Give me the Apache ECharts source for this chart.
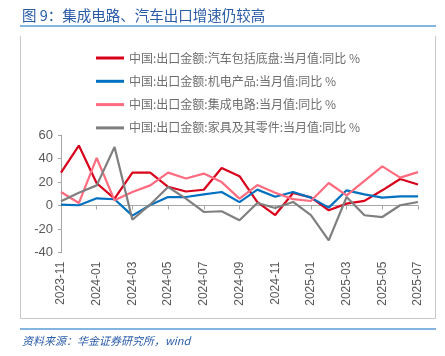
<!DOCTYPE html>
<html><head><meta charset="utf-8">
<script src="https://cdn.jsdelivr.net/npm/echarts@6/dist/echarts.min.js"></script>
<style>html,body{margin:0;padding:0;background:#fff}#c{width:445px;height:356px}</style>
</head><body><div id="c"></div>
<script>
const categories = ['2023-11','2023-12','2024-01','2024-02','2024-03','2024-04','2024-05','2024-06','2024-07','2024-08','2024-09','2024-10','2024-11','2024-12','2025-01','2025-02','2025-03','2025-04','2025-05','2025-06','2025-07'];
const autoExport = [28, 51, 19, 6, 28, 28, 16, 12, 13.5, 32, 25, 3, -8, 10.7, 7, -4, 1.7, 4, 13, 22.6, 18];
const mechElec   = [0.8, 0.3, 6.2, 5.4, -8.5, 0.5, 7.3, 7.3, 9.6, 11.6, 3, 13.6, 7.5, 11.6, 6.8, -1.7, 13, 9.6, 6.8, 7.9, 7.9];
const icExport   = [11.6, 2.2, 40.5, 4.5, 11.6, 17.2, 28, 23, 27.2, 20, 5.9, 17.5, 11, 5.5, 3.9, 19.2, 8.7, 21, 33.4, 23.8, 28.5];
const furniture  = [3.7, 11, 17.2, 49.8, -12, 1, 15.8, 6, -5.4, -4.8, -12.5, 2.2, -2, 3.1, -8, -29.5, 7.3, -8.2, -9.7, 0.3, 3.1];
const seriesNames = ['中国:出口金额:汽车包括底盘:当月值:同比 %','中国:出口金额:机电产品:当月值:同比 %','中国:出口金额:集成电路:当月值:同比 %','中国:出口金额:家具及其零件:当月值:同比 %'];
const yTicks = {min: -40, max: 60, interval: 20};
const colors = ['#D9001B', '#0070C0', '#FF6B7F', '#7F7F7F'];

const chart = echarts.init(document.getElementById('c'), null, {renderer: 'canvas'});
const txt = '#595959';
const mk = (name, data, color) => ({
  name, type: 'line', data, symbol: 'none', showSymbol: false, xAxisIndex: 0,
  lineStyle: {color, width: 2.2}, itemStyle: {color}
});
chart.setOption({
  animation: false,
  color: colors,
  grid: {left: 61, right: 27, top: 135, bottom: 103.3},
  legend: {
    orient: 'vertical', left: 91, top: 46, itemWidth: 28, itemHeight: 3, itemGap: 9.3,
    icon: 'rect',
    textStyle: {color: '#6E6E6E', fontSize: 12, lineHeight: 14, fontFamily: 'Noto Sans CJK SC'},
    data: seriesNames
  },
  xAxis: [{
    type: 'category', data: categories, boundaryGap: false,
    axisLine: {show: false, onZero: false}, axisTick: {show: false},
    axisLabel: {rotate: 90, interval: 1, color: txt, fontSize: 12, fontFamily: 'Liberation Sans', margin: 9}
  }, {
    type: 'category', data: categories, boundaryGap: false, position: 'bottom',
    axisLine: {show: true, onZero: true, lineStyle: {color: '#A6A6A6', width: 1}},
    axisTick: {show: true, interval: 1, length: 4, lineStyle: {color: '#A6A6A6'}},
    axisLabel: {show: false}
  }],
  yAxis: {
    type: 'value', min: yTicks.min, max: yTicks.max, interval: yTicks.interval,
    axisLine: {show: true, lineStyle: {color: '#A6A6A6'}},
    axisTick: {show: true, length: 3, lineStyle: {color: '#A6A6A6'}},
    splitLine: {show: false},
    axisLabel: {color: txt, fontSize: 13, fontFamily: 'Liberation Sans', margin: 8}
  },
  series: [
    mk(seriesNames[0], autoExport, colors[0]),
    mk(seriesNames[1], mechElec, colors[1]),
    mk(seriesNames[2], icExport, colors[2]),
    mk(seriesNames[3], furniture, colors[3])
  ],
  graphic: [
    {type: 'text', left: 22, top: 8, style: {text: '图 9：集成电路、汽车出口增速仍较高', fill: '#2A5BA6', font: '14.5px "Noto Sans CJK SC"'}},
    {type: 'line', shape: {x1: 20, y1: 26, x2: 436, y2: 26}, style: {stroke: '#5B9BD5', lineWidth: 1.5}},
    {type: 'line', shape: {x1: 20.5, y1: 36, x2: 20.5, y2: 318.5}, style: {stroke: '#C8C8C8', lineWidth: 1}},
    {type: 'line', shape: {x1: 435.5, y1: 36, x2: 435.5, y2: 318.5}, style: {stroke: '#C8C8C8', lineWidth: 1}},
    {type: 'line', shape: {x1: 20.5, y1: 318.5, x2: 435.5, y2: 318.5}, style: {stroke: '#C8C8C8', lineWidth: 1}},
    {type: 'line', shape: {x1: 20, y1: 329, x2: 436, y2: 329}, style: {stroke: '#5B9BD5', lineWidth: 1.5}},
    {type: 'text', left: 22, top: 335, style: {text: '资料来源：华金证券研究所，wind', fill: '#2A5CAA', font: 'italic 11px "Noto Sans CJK SC"'}}
  ]
});
</script></body></html>
